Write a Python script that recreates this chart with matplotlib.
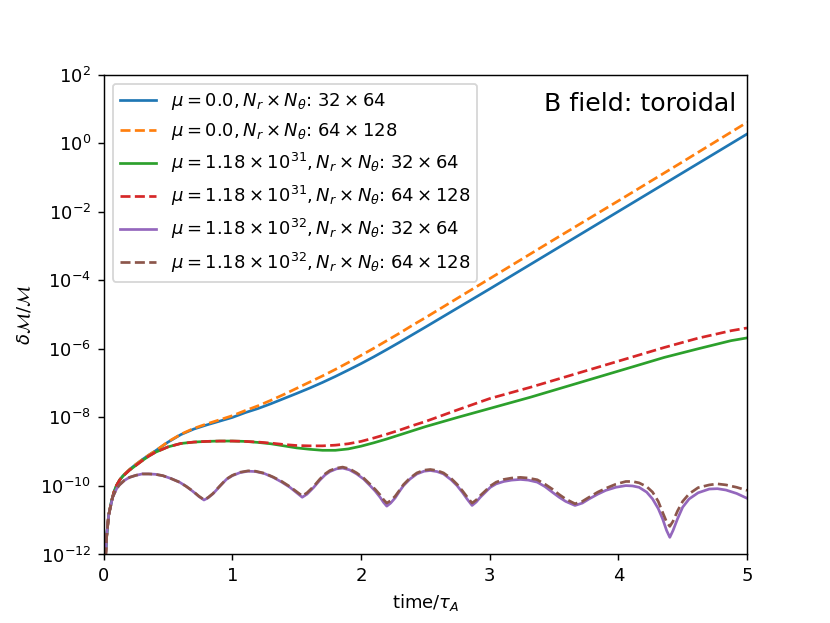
import numpy as np
import matplotlib
matplotlib.use("Agg")
import matplotlib.pyplot as plt

# ---- data (log10 of dM/M) ----
x_blue = [0.0, 0.015, 0.023, 0.038, 0.06, 0.08, 0.1, 0.125, 0.15, 0.2, 0.25, 0.3, 0.35, 0.4,
          0.5, 0.6, 0.7, 0.8, 0.9, 1.0, 1.1, 1.2, 1.3, 1.4, 1.5, 1.6, 1.7, 1.8, 1.9, 2.0,
          2.1, 2.2, 2.3, 2.4, 2.5, 3.0, 3.5, 4.0, 4.5, 5.0]
lg_blue = [-12.5, -12.0, -11.45, -10.86, -10.45, -10.17, -9.98, -9.82, -9.70, -9.52, -9.37,
           -9.23, -9.10, -8.98, -8.72, -8.50, -8.34, -8.22, -8.11, -8.00, -7.86, -7.74, -7.60,
           -7.45, -7.30, -7.145, -6.98, -6.805, -6.62, -6.43, -6.23, -6.02, -5.805, -5.585,
           -5.365, -4.25, -3.12, -1.99, -0.86, 0.27]

x_orange = [0.0, 0.015, 0.023, 0.038, 0.06, 0.08, 0.1, 0.125, 0.15, 0.2, 0.25, 0.3, 0.35, 0.4,
            0.5, 0.6, 0.7, 0.8, 0.9, 1.0, 1.1, 1.2, 1.3, 1.4, 1.5, 1.6, 1.7, 1.8, 1.9, 2.0,
            2.1, 2.2, 2.3, 2.4, 2.5, 3.0, 3.5, 4.0, 4.5, 5.0]
lg_orange = [-12.5, -12.0, -11.45, -10.86, -10.45, -10.17, -9.98, -9.82, -9.70, -9.52, -9.37,
             -9.23, -9.10, -8.98, -8.71, -8.49, -8.32, -8.19, -8.07, -7.95, -7.80, -7.66,
             -7.50, -7.33, -7.15, -6.97, -6.79, -6.60, -6.40, -6.19, -5.98, -5.76, -5.54,
             -5.31, -5.09, -3.95, -2.81, -1.68, -0.54, 0.61]

x_green = [0.0, 0.015, 0.023, 0.038, 0.06, 0.08, 0.1, 0.125, 0.15, 0.2, 0.25, 0.3, 0.35, 0.4,
           0.5, 0.6, 0.7, 0.8, 0.9, 1.0, 1.1, 1.2, 1.3, 1.4, 1.5, 1.6, 1.7, 1.8, 1.9, 2.0,
           2.1, 2.2, 2.3, 2.4, 2.5, 2.75, 3.0, 3.317, 3.577, 3.837, 4.097, 4.356, 4.617,
           4.876, 5.0]
lg_green = [-12.5, -12.0, -11.45, -10.86, -10.45, -10.17, -9.98, -9.82, -9.71, -9.54, -9.40,
            -9.26, -9.13, -9.02, -8.86, -8.76, -8.72, -8.70, -8.69, -8.69, -8.70, -8.73,
            -8.77, -8.83, -8.89, -8.93, -8.96, -8.96, -8.92, -8.84, -8.74, -8.63, -8.51,
            -8.39, -8.27, -8.00, -7.74, -7.41, -7.12, -6.83, -6.54, -6.25, -6.00, -5.76, -5.68]

x_red = [0.0, 0.015, 0.023, 0.038, 0.06, 0.08, 0.1, 0.125, 0.15, 0.2, 0.25, 0.3, 0.35, 0.4,
         0.5, 0.6, 0.7, 0.8, 0.9, 1.0, 1.1, 1.2, 1.3, 1.4, 1.5, 1.6, 1.7, 1.8, 1.9, 2.0,
         2.1, 2.2, 2.3, 2.4, 2.5, 2.75, 3.0, 3.317, 3.577, 3.837, 4.097, 4.356, 4.617,
         4.876, 5.0]
lg_red = [-12.5, -12.0, -11.45, -10.86, -10.45, -10.17, -9.98, -9.82, -9.71, -9.54, -9.40,
          -9.26, -9.13, -9.02, -8.86, -8.76, -8.72, -8.70, -8.69, -8.69, -8.70, -8.72,
          -8.75, -8.79, -8.82, -8.83, -8.83, -8.81, -8.77, -8.70, -8.60, -8.49, -8.37,
          -8.24, -8.12, -7.78, -7.45, -7.12, -6.83, -6.54, -6.25, -5.96, -5.69, -5.47, -5.39]

x_purple = [0.0, 0.015, 0.023, 0.038, 0.069, 0.1, 0.122, 0.16, 0.2, 0.25, 0.3, 0.35, 0.4,
            0.459, 0.52, 0.589, 0.64, 0.693, 0.74, 0.779, 0.81, 0.849, 0.9, 0.953, 1.0, 1.06,
            1.122, 1.18, 1.25, 1.317, 1.38, 1.447, 1.5, 1.543, 1.58, 1.63, 1.68, 1.72, 1.758,
            1.81, 1.857, 1.91, 1.966, 2.02, 2.07, 2.11, 2.148, 2.175, 2.20, 2.23, 2.265, 2.3,
            2.33, 2.38, 2.434, 2.49, 2.538, 2.59, 2.641, 2.7, 2.746, 2.79, 2.824, 2.863,
            2.895, 2.927, 2.97, 3.005, 3.05, 3.109, 3.17, 3.239, 3.3, 3.37, 3.43, 3.486, 3.54,
            3.59, 3.663, 3.72, 3.772, 3.84, 3.902, 3.98, 4.058, 4.11, 4.161, 4.22, 4.266,
            4.31, 4.344, 4.375, 4.40, 4.425, 4.46, 4.5, 4.55, 4.62, 4.707, 4.77, 4.837, 4.92,
            5.0]
lg_purple = [-12.5, -12.0, -11.45, -10.86, -10.33, -10.08, -9.97, -9.84, -9.75, -9.69, -9.65,
             -9.65, -9.66, -9.70, -9.78, -9.89, -10.01, -10.16, -10.31, -10.41, -10.35, -10.23,
             -10.02, -9.81, -9.70, -9.61, -9.57, -9.58, -9.64, -9.75, -9.88, -10.04, -10.20,
             -10.33, -10.24, -10.05, -9.83, -9.68, -9.58, -9.50, -9.48, -9.53, -9.65, -9.80,
             -9.99, -10.15, -10.33, -10.48, -10.59, -10.50, -10.35, -10.15, -9.99, -9.80,
             -9.65, -9.57, -9.55, -9.58, -9.65, -9.82, -9.99, -10.20, -10.38, -10.57, -10.47,
             -10.33, -10.17, -10.04, -9.94, -9.87, -9.83, -9.81, -9.83, -9.89, -10.02, -10.18,
             -10.33, -10.45, -10.57, -10.50, -10.38, -10.24, -10.13, -10.04, -9.99, -10.00,
             -10.04, -10.18, -10.38, -10.66, -10.96, -11.30, -11.50, -11.30, -10.96, -10.62,
             -10.38, -10.20, -10.09, -10.08, -10.12, -10.22, -10.36]

x_brown = list(x_purple)
lg_brown = [-12.5, -12.0, -11.45, -10.86, -10.33, -10.08, -9.97, -9.84, -9.75, -9.69, -9.65,
            -9.65, -9.66, -9.70, -9.78, -9.89, -10.01, -10.15, -10.30, -10.40, -10.34, -10.22,
            -10.01, -9.80, -9.69, -9.60, -9.56, -9.57, -9.63, -9.74, -9.86, -10.02, -10.17,
            -10.29, -10.20, -10.02, -9.80, -9.65, -9.55, -9.48, -9.45, -9.50, -9.62, -9.77,
            -9.95, -10.10, -10.26, -10.40, -10.50, -10.43, -10.30, -10.12, -9.96, -9.77,
            -9.62, -9.54, -9.52, -9.55, -9.62, -9.78, -9.95, -10.15, -10.32, -10.50, -10.41,
            -10.28, -10.13, -10.00, -9.89, -9.81, -9.77, -9.75, -9.77, -9.82, -9.95, -10.09,
            -10.25, -10.38, -10.52, -10.45, -10.33, -10.18, -10.07, -9.95, -9.87, -9.87,
            -9.91, -10.02, -10.18, -10.45, -10.77, -11.05, -11.18, -11.03, -10.73, -10.45,
            -10.23, -10.05, -9.97, -9.94, -9.97, -10.04, -10.13]

labels = [r'$\mu=0.0, N_r\times N_\theta$: $32\times 64$',
          r'$\mu=0.0, N_r\times N_\theta$: $64\times 128$',
          r'$\mu=1.18\times 10^{31}, N_r\times N_\theta$: $32\times 64$',
          r'$\mu=1.18\times 10^{31}, N_r\times N_\theta$: $64\times 128$',
          r'$\mu=1.18\times 10^{32}, N_r\times N_\theta$: $32\times 64$',
          r'$\mu=1.18\times 10^{32}, N_r\times N_\theta$: $64\times 128$']

series = [(x_blue, lg_blue, '-', 'C0'), (x_orange, lg_orange, '--', 'C1'),
          (x_green, lg_green, '-', 'C2'), (x_red, lg_red, '--', 'C3'),
          (x_purple, lg_purple, '-', 'C4'), (x_brown, lg_brown, '--', 'C5')]

fig, ax = plt.subplots(figsize=(830/130, 623/130), dpi=130)
for (xs, lg, ls, c), lab in zip(series, labels):
    ax.semilogy(xs, 10.0 ** np.array(lg), ls, color=c, label=lab, lw=1.5)

ax.set_xlim(0, 5)
ax.set_ylim(1e-12, 1e2)
ax.set_yticks([1e-12, 1e-10, 1e-8, 1e-6, 1e-4, 1e-2, 1e0, 1e2])
ax.minorticks_off()
ax.set_xlabel(r'time/$\tau_A$')
ax.set_ylabel(r'$\delta\mathcal{M}/\mathcal{M}$')
ax.legend(loc='upper left')
ax.text(0.983, 0.94, 'B field: toroidal', transform=ax.transAxes, ha='right', va='center',
        fontsize=14)
fig.savefig('out.png', dpi=130)
